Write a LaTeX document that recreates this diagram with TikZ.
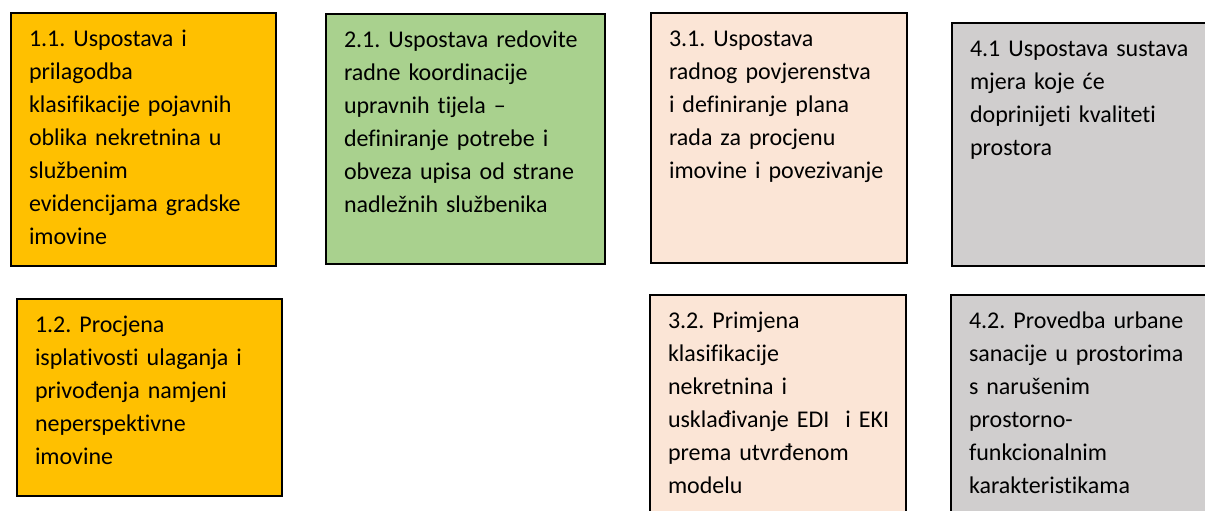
\documentclass[tikz,border=0pt]{standalone}
\usepackage{fontspec}
\setmainfont{Carlito}[Ligatures=NoCommon]
\frenchspacing
\definecolor{mjOrange}{HTML}{FFC000}
\definecolor{mjGreen}{HTML}{A9D18E}
\definecolor{mjPeach}{HTML}{FBE5D6}
\definecolor{mjGray}{HTML}{D0CECE}
\begin{document}
\begin{tikzpicture}[x=0.5pt, y=-0.5pt]
		\tikzstyle{every node}=[inner xsep=9pt, inner ysep=2pt, align=left]
		\tikzstyle{mjera}=[draw=black, line width=1pt, anchor=north west, text height=14.8pt,
			font={\fontsize{12}{16.5}\selectfont}]
		\clip (0,0) rectangle (1205,510);
		\node[mjera, fill=mjOrange, text width=114.5pt, text depth=107.7pt] (m11) at (10, 12)
			{1.1. Uspostava i\\prilagodba\\klasifikacije pojavnih\\oblika nekretnina u\\službenim\\evidencijama gradske\\imovine};
		\node[mjera, fill=mjOrange, text width=114.5pt, text depth=79.7pt] (m12) at (16, 298)
			{1.2. Procjena\\isplativosti ulaganja i\\privođenja namjeni\\neperspektivne\\imovine};
		\node[mjera, fill=mjGreen, text width=121.5pt, text depth=106.2pt] (m21) at (325, 13)
			{2.1. Uspostava redovite\\radne koordinacije\\upravnih tijela --\\definiranje potrebe i\\obveza upisa od strane\\nadležnih službenika};
		\node[mjera, fill=mjPeach, text width=110pt, text depth=106.2pt] (m31) at (650, 12)
			{3.1. Uspostava\\radnog povjerenstva\\i definiranje plana\\rada za procjenu\\imovine i povezivanje};
		\node[mjera, fill=mjPeach, text width=110pt, text depth=96.2pt] (m32) at (649, 294)
			{3.2. Primjena\\klasifikacije\\nekretnina i\\\mbox{usklađivanje EDI\ \ i EKI}\\prema utvrđenom\\modelu};
		\node[mjera, fill=mjGray, text width=121.5pt, text depth=102.7pt] (m41) at (951, 22)
			{4.1 Uspostava sustava\\mjera koje će\\doprinijeti kvaliteti\\prostora};
		\node[mjera, fill=mjGray, text width=121.5pt, text depth=96.2pt] (m42) at (950, 294)
			{4.2. Provedba urbane\\sanacije u prostorima\\s narušenim\\prostorno-\\funkcionalnim\\karakteristikama};
\end{tikzpicture}
\end{document}
